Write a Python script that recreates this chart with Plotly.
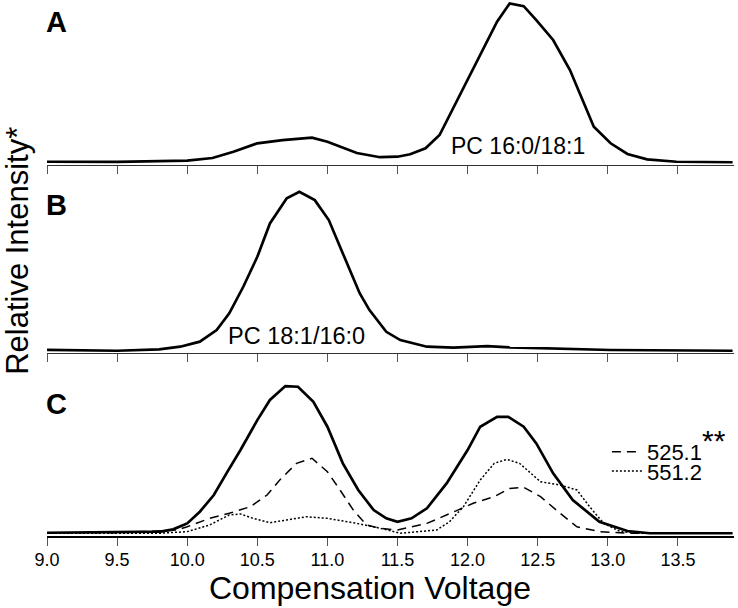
import plotly.graph_objects as go

# ---- data (relative intensity) ----
a_x = [9.0, 9.5, 10.0, 10.18, 10.33, 10.5, 10.68, 10.89, 11.0, 11.21, 11.375, 11.5, 11.59, 11.70,
       11.80, 11.95, 12.07, 12.21, 12.30, 12.40, 12.49, 12.61, 12.73, 12.90, 13.02, 13.14, 13.28,
       13.49, 13.89]
a_y = [2.0, 1.9, 2.7, 4.3, 8.2, 13.4, 15.4, 16.9, 14.4, 7.4, 4.8, 5.1, 6.6, 10.3,
       18.5, 44.4, 64.8, 88.5, 99.8, 98.1, 89.5, 77.2, 58.6, 23.6, 13.4, 6.8, 3.5,
       2.0, 1.7]

b_x = [9.0, 9.5, 9.8, 9.95, 10.09, 10.21, 10.30, 10.40, 10.50, 10.59, 10.71, 10.80, 10.91, 11.01,
       11.11, 11.23, 11.30, 11.42, 11.52, 11.71, 11.90, 12.14, 12.30, 12.66, 13.02, 13.89]
b_y = [1.9, 1.4, 2.3, 3.9, 7.0, 14.2, 24.5, 40.9, 59.4, 80.0, 95.5, 99.6, 94.4, 82.1,
       61.5, 36.9, 26.5, 13.1, 8.0, 3.9, 3.3, 4.3, 3.5, 2.5, 1.85, 1.4]

c_x = [9.0, 9.5, 9.81, 9.90, 10.0, 10.09, 10.19, 10.28, 10.38, 10.50, 10.59, 10.70, 10.79, 10.90,
       11.0, 11.11, 11.22, 11.33, 11.42, 11.50, 11.60, 11.71, 11.85, 12.0, 12.09, 12.21, 12.29,
       12.40, 12.49, 12.61, 12.75, 12.94, 13.14, 13.30, 13.89]
c_y = [2.0, 2.2, 2.7, 4.1, 7.8, 15.0, 25.3, 38.7, 53.1, 71.6, 84.0, 92.6, 92.2, 82.9,
       67.5, 44.9, 28.4, 16.0, 10.9, 8.8, 10.9, 17.1, 32.5, 53.1, 67.5, 73.6, 73.6,
       67.5, 57.2, 38.7, 22.2, 8.8, 3.1, 1.7, 1.7]

d525_x = [9.0, 9.5, 9.93, 10.0, 10.16, 10.30, 10.45, 10.57, 10.66, 10.78, 10.89, 11.0, 11.09, 11.185,
          11.28, 11.375, 11.5, 11.71, 11.93, 12.04, 12.19, 12.30, 12.40, 12.52, 12.66, 12.78, 12.94,
          13.14, 13.89]
d525_y = [2.0, 2.0, 3.7, 5.7, 10.9, 14.0, 18.1, 25.3, 34.6, 44.9, 48.0, 39.7, 28.4, 16.0,
          6.8, 4.8, 3.7, 7.8, 16.0, 20.2, 24.3, 29.4, 30.1, 24.3, 14.0, 5.7, 2.7,
          1.7, 1.7]

d551_x = [9.0, 9.5, 9.81, 10.0, 10.16, 10.30, 10.38, 10.47, 10.59, 10.71, 10.85, 11.0, 11.21, 11.375,
          11.52, 11.78, 11.87, 11.97, 12.09, 12.19, 12.28, 12.37, 12.52, 12.66, 12.78, 12.87, 12.97,
          13.09, 13.25, 13.89]
d551_y = [1.7, 1.7, 1.7, 2.7, 6.8, 13.0, 13.6, 10.9, 8.2, 9.9, 11.9, 10.9, 7.8, 4.8,
          1.7, 3.7, 8.8, 18.1, 34.6, 44.9, 47.3, 44.9, 33.5, 31.5, 28.4, 18.1, 7.8,
          2.7, 1.7, 1.7]

x_ticks = [9.0, 9.5, 10.0, 10.5, 11.0, 11.5, 12.0, 12.5, 13.0, 13.5]
x_tick_labels = ["9.0", "9.5", "10.0", "10.5", "11.0", "11.5", "12.0", "12.5", "13.0", "13.5"]

FONT = "Liberation Sans, Arial, Helvetica, sans-serif"

fig = go.Figure()
fig.add_trace(go.Scatter(x=a_x, y=a_y, mode="lines", line=dict(color="black", width=2.7),
                         xaxis="x", yaxis="y", showlegend=False))
fig.add_trace(go.Scatter(x=b_x, y=b_y, mode="lines", line=dict(color="black", width=2.7),
                         xaxis="x2", yaxis="y2", showlegend=False))
fig.add_trace(go.Scatter(x=c_x, y=c_y, mode="lines", line=dict(color="black", width=2.7),
                         xaxis="x3", yaxis="y3", showlegend=False))
fig.add_trace(go.Scatter(x=d525_x, y=d525_y, mode="lines",
                         name="525.1<sup><span style='font-size:30px'>**</span></sup>",
                         line=dict(color="black", width=1.5, dash="9px,6px"),
                         xaxis="x3", yaxis="y3", legend="legend"))
fig.add_trace(go.Scatter(x=d551_x, y=d551_y, mode="lines", name="551.2",
                         line=dict(color="black", width=1.5, dash="2px,2px"),
                         xaxis="x3", yaxis="y3", legend="legend2"))

xcommon = dict(range=[9.0, 13.9], showline=True, ticks="outside", ticklen=8,
               tickcolor="#555", tickwidth=1, tickvals=x_ticks, ticktext=x_tick_labels,
               showgrid=False, zeroline=False)
ycommon = dict(range=[0, 101.9], showline=False, showticklabels=False, ticks="",
               showgrid=False, zeroline=False)

fig.update_layout(
    width=738, height=608,
    margin=dict(l=47, r=4, t=0, b=72),
    paper_bgcolor="white", plot_bgcolor="white",
    font=dict(family=FONT, color="black"),
    xaxis=dict(**xcommon, anchor="y", showticklabels=False, linecolor="#333", linewidth=1),
    xaxis2=dict(**xcommon, anchor="y2", matches="x", showticklabels=False,
                linecolor="#333", linewidth=1),
    xaxis3=dict(**xcommon, anchor="y3", matches="x", showticklabels=True,
                linecolor="black", linewidth=2, tickfont=dict(size=18, family=FONT),
                ticklabelstandoff=-2),
    yaxis=dict(**ycommon, domain=[0.6922, 1.0]),
    yaxis2=dict(**ycommon, domain=[0.3414, 0.6493]),
    yaxis3=dict(**ycommon, domain=[0.0, 0.3078]),
    legend=dict(x=0.815, y=0.157, xanchor="left", yanchor="middle",
                font=dict(size=22, family=FONT), bgcolor="rgba(0,0,0,0)", itemwidth=30),
    legend2=dict(x=0.815, y=0.121, xanchor="left", yanchor="middle",
                 font=dict(size=22, family=FONT), bgcolor="rgba(0,0,0,0)", itemwidth=30),
    showlegend=True,
)

annotations = [
    dict(text="<b>A</b>", xref="paper", yref="paper", x=0.0, y=0.959, xanchor="left",
         xshift=-3, yanchor="middle", showarrow=False, font=dict(size=29, family=FONT)),
    dict(text="<b>B</b>", xref="paper", yref="paper", x=0.0, y=0.6175, xanchor="left",
         xshift=-3, yanchor="middle", showarrow=False, font=dict(size=29, family=FONT)),
    dict(text="<b>C</b>", xref="paper", yref="paper", x=0.0, y=0.2463, xanchor="left",
         xshift=-3, yanchor="middle", showarrow=False, font=dict(size=29, family=FONT)),
    dict(text="PC 16:0/18:1", xref="x", yref="y", x=12.36, y=12.0, xanchor="center",
         yanchor="middle", showarrow=False, font=dict(size=23, family=FONT)),
    dict(text="PC 18:1/16:0", xref="x2", yref="y2", x=10.78, y=10.8, xanchor="center",
         yanchor="middle", showarrow=False, font=dict(size=23.5, family=FONT)),
    dict(text="Relative Intensity*",
         xref="paper", yref="paper", x=0.0, y=0.532,
         xshift=-29, xanchor="center", yanchor="middle", textangle=-90, showarrow=False,
         font=dict(size=31, family=FONT)),
    dict(text="Compensation Voltage", xref="paper", yref="paper", x=0.47, y=0.0,
         yshift=-52, xanchor="center", yanchor="middle", showarrow=False,
         font=dict(size=32, family=FONT)),
]
fig.update_layout(annotations=annotations)

fig.write_html("out.html", config={"displayModeBar": False},
               post_script="document.body.style.margin='0px';document.body.style.overflow='hidden';")
